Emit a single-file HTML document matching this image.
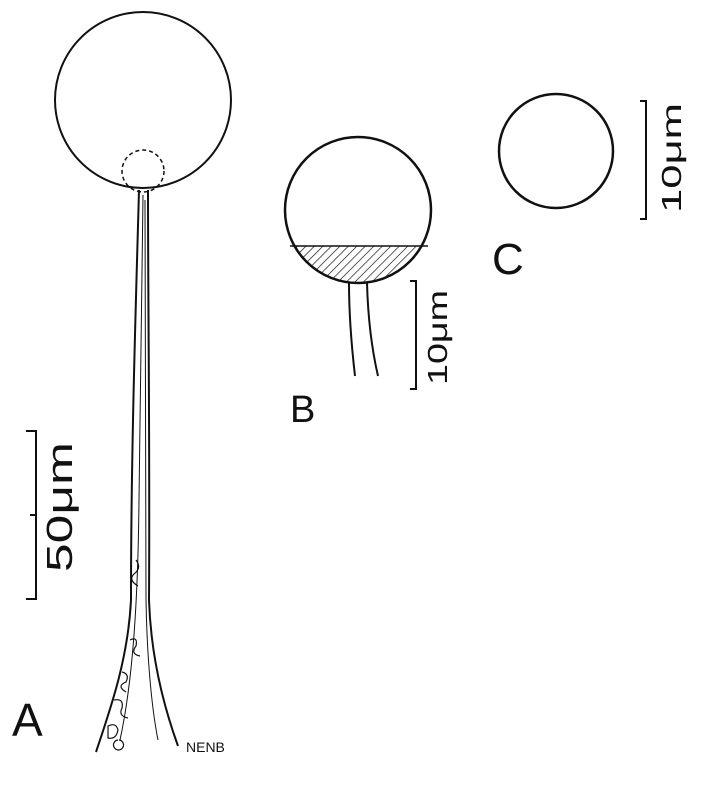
<!DOCTYPE html>
<html><head><meta charset="utf-8"><style>
html,body{margin:0;padding:0;background:#fff;}
svg{display:block;}
text{font-family:"Liberation Sans",sans-serif;fill:#111;}
</style></head><body>
<svg width="718" height="800" viewBox="0 0 718 800">
<defs>
<pattern id="hatch" width="6" height="6" patternUnits="userSpaceOnUse" patternTransform="rotate(45)">
<rect width="6" height="6" fill="#fff"/><line x1="0" y1="0" x2="0" y2="6" stroke="#111" stroke-width="1.4"/>
</pattern>
<clipPath id="bclip"><circle cx="358" cy="210" r="73"/></clipPath>
</defs>
<g stroke="#111" fill="none" stroke-width="2">
<circle cx="143" cy="100" r="88"/>
<circle cx="143" cy="171" r="21" stroke-dasharray="4 3" stroke-width="1.5"/>
<path d="M139 190 C136 300 131 450 131 600 C128 660 110 710 96 752"/>
<path d="M148 190 C148 300 150 450 149 600 C151 660 165 710 178 746"/>
<path stroke-width="1" d="M143 195 C141 300 140 400 139 500 C138 600 133 680 120 740 M145 200 C145 350 146 500 146 600 C147 660 152 710 158 740"/>
<path stroke-width="1.2" d="M136 560 q6 8 -2 14 q-6 6 4 12 M130 640 q8 -4 6 6 q-6 8 4 10 M122 672 q8 2 4 10 q-10 4 0 10 M114 700 q10 -2 8 8 q-4 8 6 10 M108 726 q8 -4 10 4 q-2 10 -10 8 z M118 740 a5 5 0 1 0 1 0"/>
<path d="M36 430 V600 M26 431 H36 M26 599 H36 M30 515 H36"/>
</g>
<text x="0" y="0" font-size="36" textLength="130" lengthAdjust="spacingAndGlyphs" transform="translate(72,572) rotate(-90)">50μm</text>
<text x="12" y="736" font-size="46">A</text>
<text x="186" y="752" font-size="14">NENB</text>

<g stroke="#111" fill="none" stroke-width="2">
<rect x="280" y="246" width="160" height="40" fill="url(#hatch)" stroke="none" clip-path="url(#bclip)"/>
<line x1="290" y1="246" x2="428" y2="246" stroke-width="1.5"/>
<circle cx="358" cy="210" r="73" stroke-width="2.5"/>
<path d="M349 283 C349 320 352 350 355 376 M367 283 C368 320 372 350 378 376"/>
<path d="M416 280 V390 M410 281 H416 M410 389 H416"/>
</g>
<text font-size="28" textLength="95" lengthAdjust="spacingAndGlyphs" transform="translate(447,385) rotate(-90)">10μm</text>
<text x="290" y="422" font-size="38">B</text>

<g stroke="#111" fill="none" stroke-width="2.5">
<circle cx="556" cy="151" r="57"/>
<path stroke-width="2" d="M646 100 V220 M640 101 H646 M640 219 H646"/>
</g>
<text font-size="28" textLength="110" lengthAdjust="spacingAndGlyphs" transform="translate(681,213) rotate(-90)">10μm</text>
<text x="492" y="274" font-size="44">C</text>
</svg>
</body></html>
